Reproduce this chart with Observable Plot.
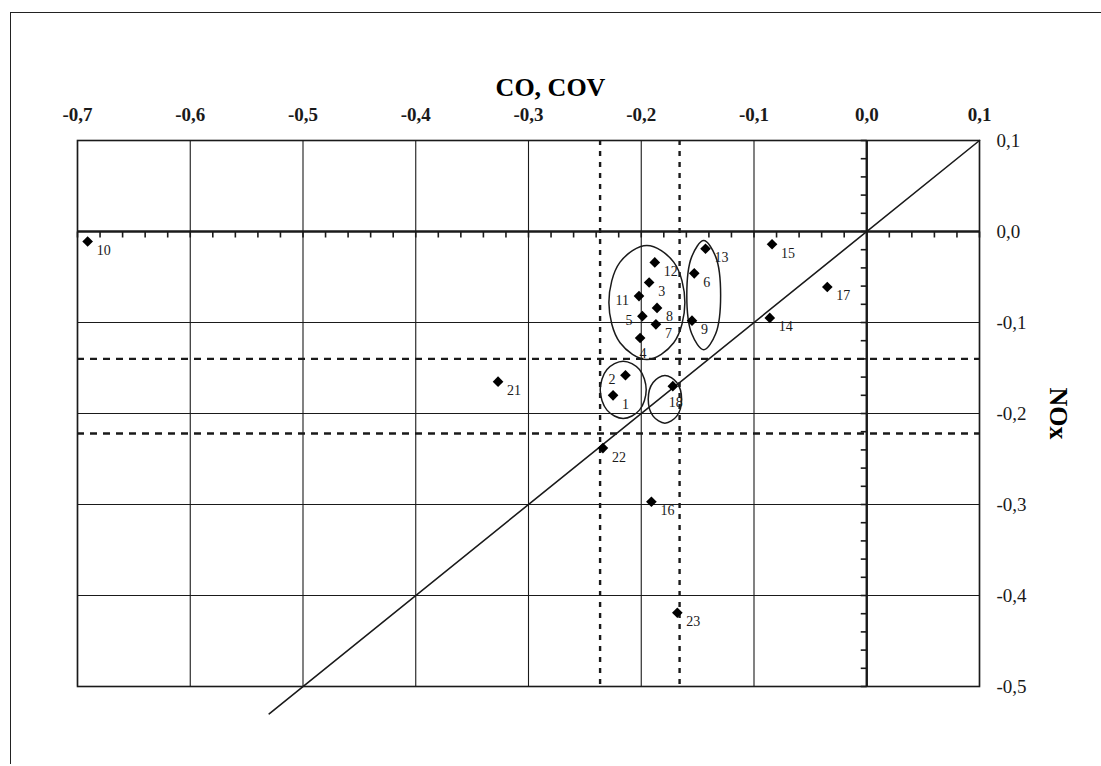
<!DOCTYPE html>
<html><head><meta charset="utf-8">
<script src="https://cdn.jsdelivr.net/npm/d3@7"></script>
<script src="https://cdn.jsdelivr.net/npm/@observablehq/plot@0.6"></script>
<style>
html,body{margin:0;padding:0;background:#fff;}
#wrap{position:relative;width:1101px;height:766px;overflow:hidden;}
#outer{position:absolute;left:10px;top:12px;width:1100px;height:751px;border-left:1.6px solid #222;border-top:1.6px solid #222;}
#chart{position:absolute;left:0;top:0;}
</style></head><body>
<div id="wrap"><div id="outer"></div><div id="chart"></div></div>
<script>
// ---- data ----
const pointIds  = ["1","2","3","4","5","6","7","8","9","10","11","12","13","14","15","16","17","18","21","22","23"];
const coValues  = [-0.225,-0.214,-0.193,-0.201,-0.199,-0.153,-0.187,-0.186,-0.155,-0.691,-0.202,-0.188,-0.143,-0.086,-0.084,-0.191,-0.035,-0.172,-0.327,-0.234,-0.168];
const noxValues = [-0.180,-0.158,-0.056,-0.117,-0.093,-0.046,-0.102,-0.084,-0.098,-0.011,-0.071,-0.034,-0.019,-0.095,-0.014,-0.297,-0.061,-0.170,-0.165,-0.238,-0.419];

const xTicks = [-0.7,-0.6,-0.5,-0.4,-0.3,-0.2,-0.1,0,0.1];
const xTickLabels = ["-0,7","-0,6","-0,5","-0,4","-0,3","-0,2","-0,1","0,0","0,1"];
const yTicks = [0.1,0,-0.1,-0.2,-0.3,-0.4,-0.5];
const yTickLabels = ["0,1","0,0","-0,1","-0,2","-0,3","-0,4","-0,5"];

const dashedCO  = [-0.2365,-0.166];
const dashedNOx = [-0.140,-0.222];
const diagonalEnds = [-0.53, 0.1];   // line NOx = CO

// ellipses drawn round groups of points (8 points each)
const ellipseGroup = ["A","A","A","A","A","A","A","A","B","B","B","B","B","B","B","B","C","C","C","C","C","C","C","C","D","D","D","D","D","D","D","D"];
const ellipseCO  = [-0.1613,-0.1712,-0.195,-0.2188,-0.2287,-0.2188,-0.195,-0.1712,
                    -0.1296,-0.134,-0.1446,-0.1552,-0.1596,-0.1552,-0.1446,-0.134,
                    -0.1956,-0.2016,-0.216,-0.2304,-0.2364,-0.2304,-0.216,-0.2016,
                    -0.1642,-0.1685,-0.179,-0.1895,-0.1938,-0.1895,-0.179,-0.1685];
const ellipseNOx = [-0.078,-0.0337,-0.0154,-0.0337,-0.078,-0.1223,-0.1406,-0.1223,
                    -0.070,-0.0276,-0.010,-0.0276,-0.070,-0.1124,-0.130,-0.1124,
                    -0.174,-0.1517,-0.1425,-0.1517,-0.174,-0.1963,-0.2055,-0.1963,
                    -0.1844,-0.1659,-0.1582,-0.1659,-0.1844,-0.2029,-0.2106,-0.2029];

const labelsLeft  = ["11","5","2"];
const labelsBelow = ["4","18"];

// ---- build tables ----
const points = pointIds.map((id,i)=>({id, co: coValues[i], nox: noxValues[i]}));
const ellipses = ellipseGroup.map((g,i)=>({g, co: ellipseCO[i], nox: ellipseNOx[i]}));
const diagonal = diagonalEnds.map(v=>({co: v, nox: v}));
const minorX = d3.ticks(-0.7, 0.1, 40);
const minorY = d3.ticks(-0.5, 0.1, 30);
const fmtX = v => xTickLabels[xTicks.findIndex(t => Math.abs(t - v) < 1e-9)];
const fmtY = v => yTickLabels[yTicks.findIndex(t => Math.abs(t - v) < 1e-9)];

const tickDown = {draw(ctx){ ctx.moveTo(0,0); ctx.lineTo(0,6); }};
const tickLeft = {draw(ctx){ ctx.moveTo(0,0); ctx.lineTo(-6,0); }};

const ink = "#1a1a1a";
const serif = "'Liberation Serif','Times New Roman',serif";

const chart = Plot.plot({
  width: 1101, height: 766,
  marginLeft: 77, marginRight: 122, marginTop: 140, marginBottom: 80,
  x: {domain: [-0.7, 0.1]},
  y: {domain: [-0.5, 0.1]},
  style: {fontFamily: serif, background: "transparent", color: ink, overflow: "visible"},
  marks: [
    Plot.ruleX(xTicks, {stroke: ink, strokeWidth: 1.1}),
    Plot.ruleY(yTicks, {stroke: ink, strokeWidth: 1.1}),
    Plot.ruleX(dashedCO, {stroke: ink, strokeWidth: 2.4, strokeDasharray: "5,6"}),
    Plot.ruleY(dashedNOx, {stroke: ink, strokeWidth: 2.4, strokeDasharray: "7,6"}),
    Plot.ruleX([0], {stroke: ink, strokeWidth: 2.4}),
    Plot.ruleY([0], {stroke: ink, strokeWidth: 2.4}),
    Plot.dot(minorX, {x: d=>d, y: () => 0, symbol: tickDown, fill: "none", stroke: ink, strokeWidth: 1.6}),
    Plot.dot(minorY, {x: () => 0, y: d=>d, symbol: tickLeft, fill: "none", stroke: ink, strokeWidth: 1.6}),
    Plot.frame({stroke: ink, strokeWidth: 1.6}),
    Plot.line(diagonal, {x: "co", y: "nox", stroke: ink, strokeWidth: 1.6}),
    Plot.line(ellipses, {x: "co", y: "nox", z: "g", curve: "catmull-rom-closed", stroke: ink, strokeWidth: 1.5}),
    Plot.dot(points, {x: "co", y: "nox", symbol: "diamond2", r: 4.8, fill: "#000", stroke: "none"}),
    Plot.text(points.filter(d => !labelsLeft.includes(d.id) && !labelsBelow.includes(d.id)),
      {x: "co", y: "nox", text: "id", dx: 9, dy: 9, textAnchor: "start", fontSize: 14, fill: ink}),
    Plot.text(points.filter(d => labelsLeft.includes(d.id)),
      {x: "co", y: "nox", text: "id", dx: -10, dy: 4, textAnchor: "end", fontSize: 14, fill: ink}),
    Plot.text(points.filter(d => labelsBelow.includes(d.id)),
      {x: "co", y: "nox", text: "id", dx: 3, dy: 16, textAnchor: "middle", fontSize: 14, fill: ink}),
    Plot.axisX({anchor: "top", ticks: xTicks, tickFormat: fmtX, tickSize: 0, tickPadding: 20, fontSize: 19, fontWeight: "bold", label: null}),
    Plot.axisY({anchor: "right", ticks: yTicks, tickFormat: fmtY, tickSize: 0, tickPadding: 17, fontSize: 19, label: null}),
    Plot.text(["CO, COV"], {text: d=>d, frameAnchor: "top", dx: 22, dy: -63, fontSize: 26, fontWeight: "bold", fill: "#000"}),
    Plot.text(["NOx"], {text: d=>d, frameAnchor: "right", dx: 79, rotate: 90, textAnchor: "middle", fontSize: 26, fontWeight: "bold", fill: "#000"})
  ]
});
document.getElementById("chart").appendChild(chart);
</script>
</body></html>
